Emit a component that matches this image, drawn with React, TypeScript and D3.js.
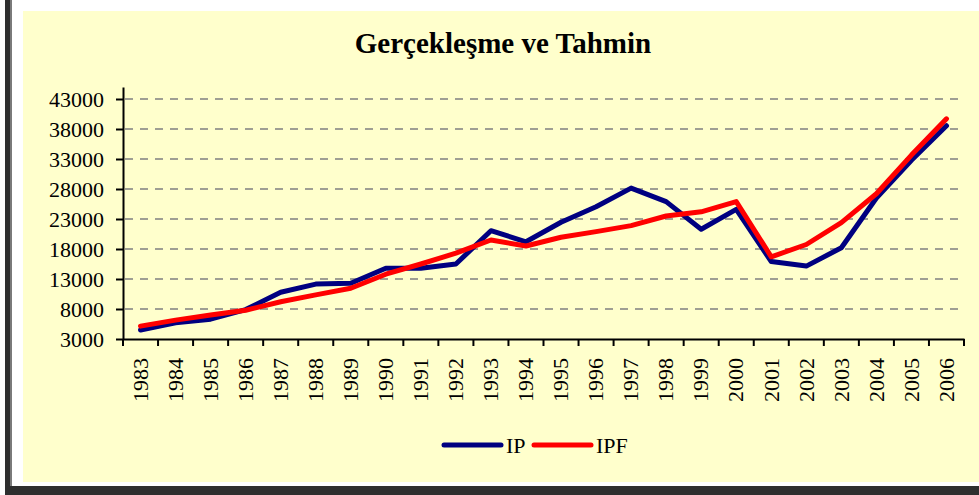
import React, { useEffect, useRef } from 'react';
import * as d3 from 'd3';

const years = ['1983', '1984', '1985', '1986', '1987', '1988', '1989', '1990', '1991', '1992', '1993', '1994',
  '1995', '1996', '1997', '1998', '1999', '2000', '2001', '2002', '2003', '2004', '2005', '2006'];
const ipValues = [4500, 5700, 6300, 7900, 10800, 12150, 12300, 14800, 14800, 15500, 21050, 19200,
  22450, 25050, 28150, 25900, 21300, 24600, 15900, 15150, 18200, 26500, 32800, 38550];
const ipfValues = [5150, 6150, 7000, 7800, 9200, 10350, 11450, 13800, 15500, 17300, 19500, 18500,
  19950, 20900, 21900, 23500, 24200, 25900, 16700, 18750, 22400, 27200, 33650, 39700];
const yTicks = [3000, 8000, 13000, 18000, 23000, 28000, 33000, 38000, 43000];

const series = [
  { name: 'IP', values: ipValues, color: '#000080' },
  { name: 'IPF', values: ipfValues, color: '#ff0000' },
];

const W = 979;
const H = 495;
const FONT = '"Liberation Serif", "Times New Roman", serif';

const App = () => {
  const svgRef = useRef<SVGSVGElement>(null);

  useEffect(() => {
    const svg = d3.select(svgRef.current);
    svg.selectAll('*').remove();

    // frame and panel
    svg.append('rect').attr('width', W).attr('height', H).attr('fill', '#ffffff');
    svg.append('rect').attr('x', 5).attr('y', 0).attr('width', 6).attr('height', H).attr('fill', '#2e2e2e');
    svg.append('rect').attr('x', 10).attr('y', 0).attr('width', 2).attr('height', H).attr('fill', '#7a7a7a');
    svg.append('rect').attr('x', 5).attr('y', 486).attr('width', W).attr('height', 9).attr('fill', '#2e2e2e');
    svg.append('rect').attr('x', 23).attr('y', 11).attr('width', W - 23).attr('height', 471).attr('fill', '#ffffcc');

    const left = 123, right = 964, top = 87, bottom = 339;

    const x = d3.scaleBand().domain(years).range([left, right]);
    const y = d3.scaleLinear().domain([3000, 45000]).range([bottom, top]);
    const cx = (d: string) => (x(d) as number) + x.bandwidth() / 2;

    // title
    svg.append('text')
      .attr('x', 503).attr('y', 53)
      .attr('text-anchor', 'middle')
      .attr('font-family', FONT).attr('font-weight', 'bold').attr('font-size', 29)
      .text('Gerçekleşme ve Tahmin');

    // grid
    svg.append('g')
      .selectAll('line')
      .data(yTicks.slice(1))
      .enter()
      .append('line')
      .attr('x1', left + 2).attr('x2', right)
      .attr('y1', d => y(d)).attr('y2', d => y(d))
      .attr('stroke', '#808080')
      .attr('stroke-width', 1.3)
      .attr('stroke-dasharray', '8,7');

    // y axis
    const yAxis = svg.append('g')
      .attr('transform', `translate(${left},0)`)
      .call(d3.axisLeft(y).tickValues(yTicks).tickSize(7).tickSizeOuter(0).tickPadding(12).tickFormat(d3.format('d')));
    yAxis.select('.domain').attr('stroke', '#000').attr('stroke-width', 2);
    yAxis.selectAll('.tick line').attr('stroke', '#000').attr('stroke-width', 2);
    yAxis.selectAll('.tick text')
      .attr('font-family', FONT).attr('font-size', 22).attr('fill', '#000');

    // x axis
    const xAxis = svg.append('g')
      .attr('transform', `translate(0,${bottom})`)
      .call(d3.axisBottom(x).tickSize(0).tickSizeOuter(0));
    xAxis.select('.domain').attr('stroke', '#000').attr('stroke-width', 2);
    xAxis.selectAll('.tick text')
      .attr('font-family', FONT).attr('font-size', 22).attr('fill', '#000')
      .attr('transform', 'rotate(-90)')
      .attr('text-anchor', 'end')
      .attr('x', -19).attr('y', 0).attr('dy', '0.33em');
    // band boundary ticks
    svg.append('g')
      .selectAll('line')
      .data(d3.range(years.length + 1))
      .enter()
      .append('line')
      .attr('x1', i => left + i * x.bandwidth()).attr('x2', i => left + i * x.bandwidth())
      .attr('y1', bottom).attr('y2', bottom + 7)
      .attr('stroke', '#000').attr('stroke-width', 2);

    // lines
    const line = d3.line<number>()
      .x((d, i) => cx(years[i]))
      .y(d => y(d));

    series.forEach(s => {
      svg.append('path')
        .datum(s.values)
        .attr('d', line)
        .attr('fill', 'none')
        .attr('stroke', s.color)
        .attr('stroke-width', 5)
        .attr('stroke-linejoin', 'round')
        .attr('stroke-linecap', 'round');
    });

    // legend
    const legendX = [444, 534];
    series.forEach((s, i) => {
      const g = svg.append('g').attr('transform', `translate(${legendX[i]},445)`);
      g.append('line')
        .attr('x1', 0).attr('x2', 57).attr('y1', 0).attr('y2', 0)
        .attr('stroke', s.color).attr('stroke-width', 5).attr('stroke-linecap', 'round');
      g.append('text')
        .attr('x', 62).attr('y', 8)
        .attr('font-family', FONT).attr('font-size', 22)
        .text(s.name);
    });
  }, []);

  return (
    <div style={{ position: 'absolute', left: 0, top: 0 }}>
      <svg ref={svgRef} width={W} height={H} style={{ display: 'block' }} aria-label="Gerçekleşme ve Tahmin" />
    </div>
  );
};

export default App;
